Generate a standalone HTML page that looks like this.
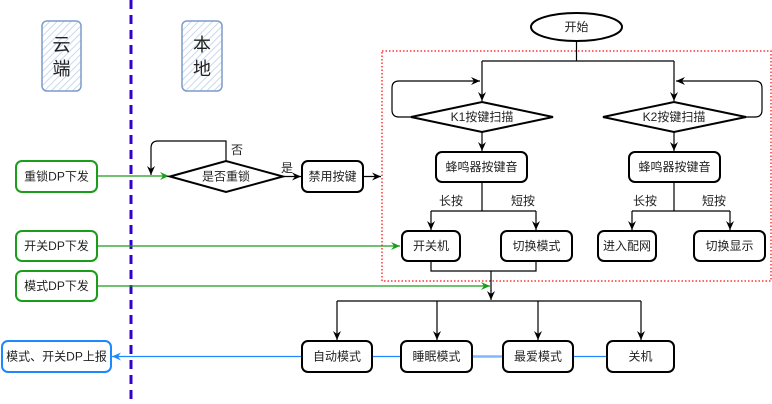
<!DOCTYPE html>
<html><head><meta charset="utf-8"><style>
html,body{margin:0;padding:0;background:#fff;width:772px;height:404px;overflow:hidden}
svg{display:block}
text{font-family:"Liberation Sans","Noto Sans CJK SC",sans-serif;font-size:12px;fill:#222;text-anchor:middle;dominant-baseline:central}
</style></head><body>
<svg width="772" height="404" viewBox="0 0 772 404" xmlns="http://www.w3.org/2000/svg">
<defs>
<marker id="ab" markerWidth="10" markerHeight="10" refX="9" refY="5" orient="auto" markerUnits="userSpaceOnUse"><path d="M0,1 L9,5 L0,9 L3,5 Z" fill="#000"/></marker>
<marker id="ag" markerWidth="10" markerHeight="10" refX="9" refY="5" orient="auto" markerUnits="userSpaceOnUse"><path d="M0,1 L9,5 L0,9 L3,5 Z" fill="#1a9e1a"/></marker>
<marker id="au" markerWidth="10" markerHeight="10" refX="9" refY="5" orient="auto" markerUnits="userSpaceOnUse"><path d="M0,1 L9,5 L0,9 L3,5 Z" fill="#1e88ff"/></marker>
<pattern id="hatch" width="5" height="5" patternUnits="userSpaceOnUse" patternTransform="rotate(45)"><rect width="5" height="5" fill="#fff"/><line x1="0" y1="0" x2="0" y2="5" stroke="#c9d9ef" stroke-width="2"/></pattern>
</defs>

<!-- header boxes -->
<rect x="42" y="21" width="39" height="70" rx="5" fill="url(#hatch)" stroke="#7e9cc8" stroke-width="1.5"/>
<text x="61.5" y="45" style="font-size:18px">云</text>
<text x="61.5" y="69" style="font-size:18px">端</text>
<rect x="182" y="21" width="40" height="70" rx="5" fill="url(#hatch)" stroke="#7e9cc8" stroke-width="1.5"/>
<text x="202" y="45" style="font-size:18px">本</text>
<text x="202" y="69" style="font-size:18px">地</text>

<!-- divider -->
<line x1="131" y1="0" x2="131" y2="404" stroke="#3300cc" stroke-width="3" stroke-dasharray="9,6"/>

<!-- red dotted region -->
<rect x="382" y="51" width="389" height="230" fill="none" stroke="#ff3333" stroke-width="1.5" stroke-dasharray="1.5,2"/>

<!-- green inputs -->
<rect x="16" y="161" width="81" height="31" rx="6" fill="#fff" stroke="#1a9e1a" stroke-width="2"/>
<text x="56.5" y="176.5">重锁DP下发</text>
<rect x="16" y="231" width="81" height="30" rx="6" fill="#fff" stroke="#1a9e1a" stroke-width="2"/>
<text x="56.5" y="246">开关DP下发</text>
<rect x="16" y="271" width="81" height="30" rx="6" fill="#fff" stroke="#1a9e1a" stroke-width="2"/>
<text x="56.5" y="286">模式DP下发</text>
<rect x="2" y="341" width="109" height="31" rx="6" fill="#fff" stroke="#1e88ff" stroke-width="2"/>
<text x="56.5" y="356.5">模式、开关DP上报</text>

<line x1="97" y1="176" x2="169" y2="176" stroke="#1a9e1a" stroke-width="1.3" marker-end="url(#ag)"/>
<line x1="97" y1="246" x2="400" y2="246" stroke="#1a9e1a" stroke-width="1.3" marker-end="url(#ag)"/>
<line x1="97" y1="286" x2="490" y2="286" stroke="#1a9e1a" stroke-width="1.3" marker-end="url(#ag)"/>

<!-- lock diamond -->
<polygon points="170,176.5 226,161 283,176.5 226,192" fill="#fff" stroke="#000" stroke-width="2"/>
<text x="226" y="176.5">是否重锁</text>
<path d="M226,161 L226,141 L158,141 Q151,141 151,148 L151,175" fill="none" stroke="#000" stroke-width="1.2" marker-end="url(#ab)"/>
<text x="237" y="150">否</text>
<line x1="283" y1="176.5" x2="301" y2="176.5" stroke="#000" stroke-width="1.2" marker-end="url(#ab)"/>
<text x="287" y="168">是</text>
<rect x="302" y="161" width="61" height="31" rx="6" fill="#fff" stroke="#000" stroke-width="2"/>
<text x="332.5" y="176.5">禁用按键</text>
<line x1="363" y1="176.5" x2="381" y2="176.5" stroke="#000" stroke-width="1.2" marker-end="url(#ab)"/>

<!-- start -->
<ellipse cx="576.5" cy="27" rx="45.5" ry="14" fill="#fff" stroke="#000" stroke-width="2"/>
<text x="576.5" y="27">开始</text>
<path d="M576.5,41 L576.5,61 M482,61 L674,61" fill="none" stroke="#000" stroke-width="1.2"/>
<line x1="482" y1="61" x2="482" y2="101" stroke="#000" stroke-width="1.2" marker-end="url(#ab)"/>
<line x1="674" y1="61" x2="674" y2="101" stroke="#000" stroke-width="1.2" marker-end="url(#ab)"/>

<!-- K1/K2 loops -->
<path d="M411,117 L399,117 Q392,117 392,110 L392,88 Q392,81 399,81 L480,81" fill="none" stroke="#000" stroke-width="1.2" marker-end="url(#ab)"/>
<path d="M746,117 L755,117 Q762,117 762,110 L762,88 Q762,81 755,81 L676,81" fill="none" stroke="#000" stroke-width="1.2" marker-end="url(#ab)"/>

<polygon points="411,117 482,102 553,117 482,132" fill="#fff" stroke="#000" stroke-width="2"/>
<text x="482" y="117">K1按键扫描</text>
<polygon points="603,117 674,102 746,117 674,132" fill="#fff" stroke="#000" stroke-width="2"/>
<text x="674" y="117">K2按键扫描</text>

<line x1="482" y1="132" x2="482" y2="151" stroke="#000" stroke-width="1.2" marker-end="url(#ab)"/>
<line x1="674" y1="132" x2="674" y2="151" stroke="#000" stroke-width="1.2" marker-end="url(#ab)"/>

<rect x="436" y="152" width="91" height="30" rx="6" fill="#fff" stroke="#000" stroke-width="2"/>
<text x="481.5" y="167">蜂鸣器按键音</text>
<rect x="629" y="152" width="91" height="30" rx="6" fill="#fff" stroke="#000" stroke-width="2"/>
<text x="674.5" y="167">蜂鸣器按键音</text>

<path d="M482,182 L482,211 M431,211 L536,211 M674,182 L674,211 M632,211 L730,211" fill="none" stroke="#000" stroke-width="1.2"/>
<line x1="431" y1="211" x2="431" y2="230" stroke="#000" stroke-width="1.2" marker-end="url(#ab)"/>
<line x1="536" y1="211" x2="536" y2="230" stroke="#000" stroke-width="1.2" marker-end="url(#ab)"/>
<line x1="632" y1="211" x2="632" y2="230" stroke="#000" stroke-width="1.2" marker-end="url(#ab)"/>
<line x1="730" y1="211" x2="730" y2="230" stroke="#000" stroke-width="1.2" marker-end="url(#ab)"/>
<text x="451" y="201">长按</text>
<text x="523" y="201">短按</text>
<text x="645" y="201">长按</text>
<text x="714" y="201">短按</text>

<rect x="402" y="231" width="58" height="30" rx="6" fill="#fff" stroke="#000" stroke-width="2"/>
<text x="431" y="246">开关机</text>
<rect x="501" y="231" width="71" height="30" rx="6" fill="#fff" stroke="#000" stroke-width="2"/>
<text x="536.5" y="246">切换模式</text>
<rect x="598" y="231" width="58" height="30" rx="6" fill="#fff" stroke="#000" stroke-width="2"/>
<text x="627" y="246">进入配网</text>
<rect x="694" y="231" width="71" height="30" rx="6" fill="#fff" stroke="#000" stroke-width="2"/>
<text x="729.5" y="246">切换显示</text>

<path d="M431,261 L431,271 L536,271 L536,261 M491,271 L491,291" fill="none" stroke="#000" stroke-width="1.2"/>
<line x1="491" y1="290" x2="491" y2="300" stroke="#000" stroke-width="1.2" marker-end="url(#ab)"/>
<line x1="337" y1="301" x2="641" y2="301" stroke="#000" stroke-width="1.2"/>
<line x1="337" y1="301" x2="337" y2="340" stroke="#000" stroke-width="1.2" marker-end="url(#ab)"/>
<line x1="437" y1="301" x2="437" y2="340" stroke="#000" stroke-width="1.2" marker-end="url(#ab)"/>
<line x1="538" y1="301" x2="538" y2="340" stroke="#000" stroke-width="1.2" marker-end="url(#ab)"/>
<line x1="641" y1="301" x2="641" y2="340" stroke="#000" stroke-width="1.2" marker-end="url(#ab)"/>

<!-- blue line -->
<line x1="607" y1="356.5" x2="112" y2="356.5" stroke="#1e88ff" stroke-width="1.3" marker-end="url(#au)"/>
<line x1="472" y1="356.5" x2="503" y2="356.5" stroke="#7fb8ff" stroke-width="2.5"/>

<rect x="302" y="341" width="70" height="31" rx="6" fill="#fff" stroke="#000" stroke-width="2"/>
<text x="337" y="356.5">自动模式</text>
<rect x="401" y="341" width="71" height="31" rx="6" fill="#fff" stroke="#000" stroke-width="2"/>
<text x="436.5" y="356.5">睡眠模式</text>
<rect x="503" y="341" width="70" height="31" rx="6" fill="#fff" stroke="#000" stroke-width="2"/>
<text x="538" y="356.5">最爱模式</text>
<rect x="607" y="341" width="67" height="31" rx="6" fill="#fff" stroke="#000" stroke-width="2"/>
<text x="640.5" y="356.5">关机</text>
</svg>
</body></html>
